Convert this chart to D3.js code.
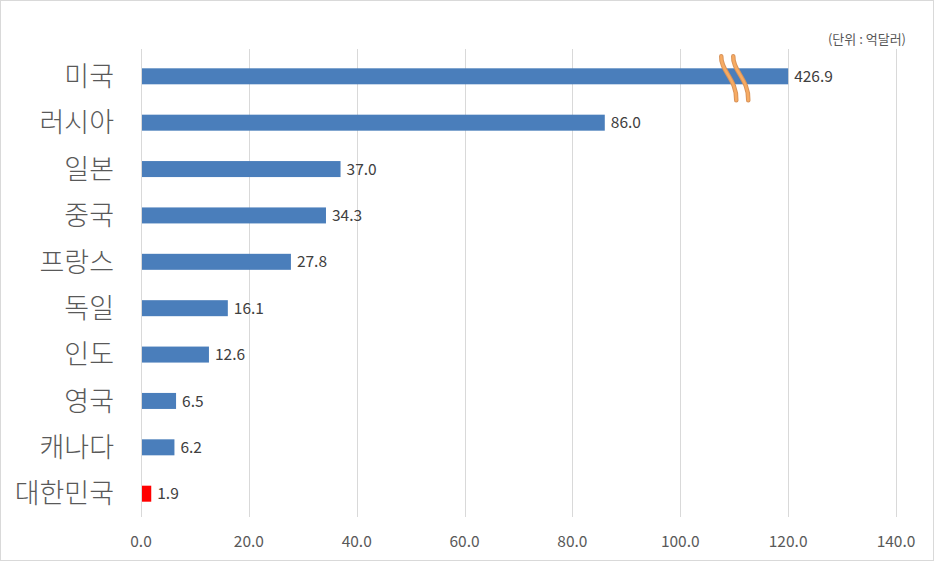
<!DOCTYPE html>
<html>
<head>
<meta charset="utf-8">
<script src="https://cdn.jsdelivr.net/npm/d3@7"></script>
<style>
  body { margin: 0; background: #fff; }
  #chart { width: 934px; height: 561px; }
  text { font-family: "Noto Sans CJK KR", "Noto Sans", sans-serif; }
</style>
</head>
<body>
<div id="chart"></div>
<script>
var countries = ["미국", "러시아", "일본", "중국", "프랑스", "독일", "인도", "영국", "캐나다", "대한민국"];
var values = [426.9, 86.0, 37.0, 34.3, 27.8, 16.1, 12.6, 6.5, 6.2, 1.9];
var ticks = [0, 20, 40, 60, 80, 100, 120, 140];
var axisMax = 140;
var capValue = 120; // bars longer than this get cut with a break mark
var unitLabel = "(단위 : 억달러)";

var svgWidth = 934, svgHeight = 561;
var margin = { top: 53, right: 38, bottom: 44, left: 141 };

var svg = d3.select("#chart").append("svg")
  .attr("width", svgWidth)
  .attr("height", svgHeight);

// outer border
svg.append("rect")
  .attr("x", 0.5).attr("y", 0.5)
  .attr("width", svgWidth - 1).attr("height", svgHeight - 1)
  .attr("fill", "#fff")
  .attr("stroke", "#d9d9d9");

var chartGroup = svg.append("g")
  .attr("transform", `translate(${margin.left}, ${margin.top})`);

var xScale = d3.scaleLinear().domain([0, axisMax]).range([0, 755]);
var yScale = d3.scaleBand().domain(countries).range([0, 464]).paddingInner(0.655).paddingOuter(0.33);

// gridlines
chartGroup.selectAll(".grid")
  .data(ticks)
  .enter()
  .append("line")
  .attr("x1", d => Math.round(xScale(d)) + 0.5)
  .attr("x2", d => Math.round(xScale(d)) + 0.5)
  .attr("y1", -4)
  .attr("y2", 464)
  .attr("stroke", "#d9d9d9");

// x axis tick labels
chartGroup.selectAll(".tick-label")
  .data(ticks)
  .enter()
  .append("text")
  .attr("x", d => xScale(d))
  .attr("y", 494)
  .attr("text-anchor", "middle")
  .attr("font-size", 15.5)
  .attr("fill", "#595959")
  .text(d => d.toFixed(1));

// category labels
chartGroup.selectAll(".cat")
  .data(countries)
  .enter()
  .append("text")
  .attr("x", -27)
  .attr("y", d => yScale(d) + yScale.bandwidth() / 2)
  .attr("dy", "0.36em")
  .attr("text-anchor", "end")
  .attr("font-size", 27)
  .attr("font-weight", 300)
  .attr("fill", "#595959")
  .text(d => d);

var rows = countries.map((c, i) => ({ name: c, value: values[i] }));

// bars
chartGroup.selectAll(".bar")
  .data(rows)
  .enter()
  .append("rect")
  .attr("x", xScale(0) + 1)
  .attr("y", d => yScale(d.name))
  .attr("width", d => xScale(Math.min(d.value, capValue)) - xScale(0) - 1)
  .attr("height", yScale.bandwidth())
  .attr("fill", d => d.name === "대한민국" ? "#ff0000" : "#4a7ebb");

// value labels
chartGroup.selectAll(".val")
  .data(rows)
  .enter()
  .append("text")
  .attr("x", d => xScale(Math.min(d.value, capValue)) + 6)
  .attr("y", d => yScale(d.name) + yScale.bandwidth() / 2)
  .attr("dy", "0.36em")
  .attr("font-size", 15.5)
  .attr("fill", "#404040")
  .text(d => d.value.toFixed(1));

// break mark on capped bar
var capped = rows.filter(d => d.value > capValue);
capped.forEach(function(d) {
  var cy = yScale(d.name) + yScale.bandwidth() / 2;
  var bx = xScale(107.6);
  [0, 12].forEach(function(off) {
    var x0 = bx + off;
    var p = `M${x0},${cy - 20} C${x0 - 1},${cy - 6} ${x0 + 16},${cy + 4} ${x0 + 15},${cy + 24}`;
    chartGroup.append("path").attr("d", p)
      .attr("fill", "none").attr("stroke", "#d8935a").attr("stroke-width", 4.5)
      .attr("stroke-linecap", "round");
    chartGroup.append("path").attr("d", p)
      .attr("fill", "none").attr("stroke", "#f7ab62").attr("stroke-width", 2.5)
      .attr("stroke-linecap", "round");
  });
});

// unit label
svg.append("text")
  .attr("x", 906)
  .attr("y", 44)
  .attr("text-anchor", "end")
  .attr("font-size", 13)
  .attr("fill", "#595959")
  .text(unitLabel);
</script>
</body>
</html>
